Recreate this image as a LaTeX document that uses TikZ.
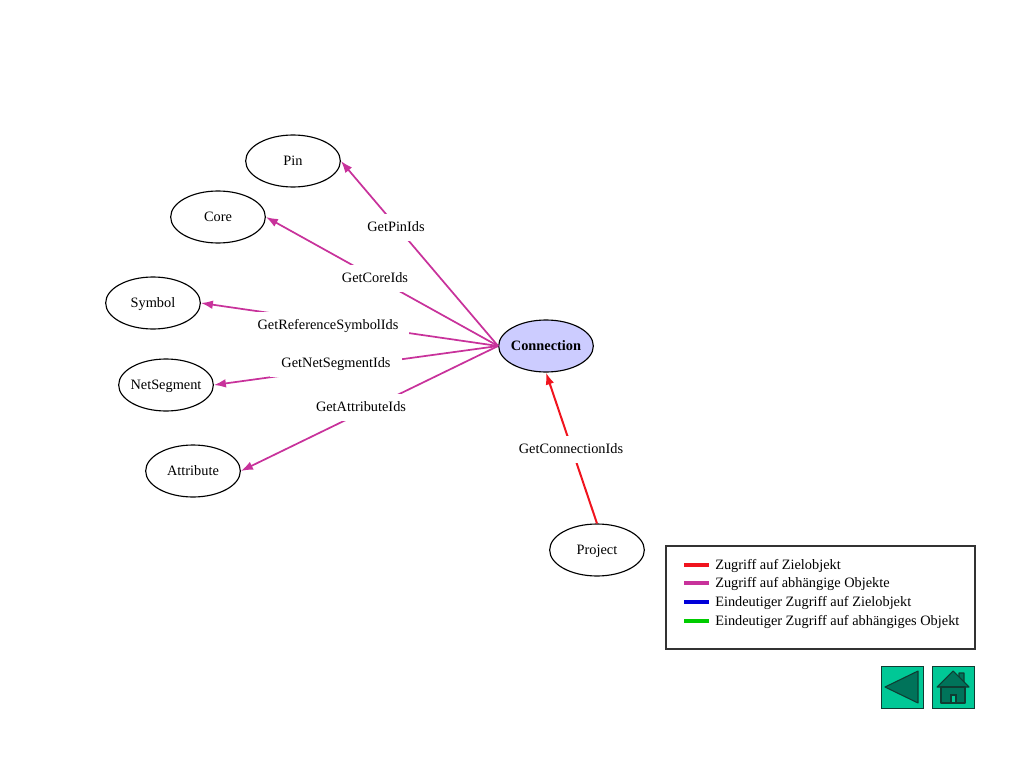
\documentclass[tikz,border=0pt]{standalone}
\usepackage{fontspec}
\setmainfont{Liberation Serif}
\usetikzlibrary{arrows.meta,shapes.geometric}
\definecolor{zielred}{RGB}{240,20,30}
\definecolor{abhmagenta}{RGB}{200,50,155}
\definecolor{connfill}{RGB}{204,204,255}
\definecolor{btnfill}{RGB}{0,200,150}
\definecolor{btndark}{RGB}{0,115,90}
\definecolor{btnline}{RGB}{15,60,50}
\tikzset{
    objnode/.style={draw, ellipse, line width=0.85pt, minimum width=71pt, minimum height=39pt, inner sep=-3pt, text height=7.5pt, text depth=0.5pt, font=\fontsize{10.75}{12}\selectfont},
    lblnode/.style={fill=white, inner xsep=8.25pt, inner ysep=0pt, minimum height=20.25pt, text height=7.5pt, text depth=0.5pt, font=\fontsize{10.75}{12}\selectfont},
    zielline/.style={zielred, line width=1.5pt},
    abhline/.style={abhmagenta, line width=1.3pt},
    tip/.style={-{Latex[length=9pt,width=6.5pt]}},
    legtext/.style={anchor=west, inner sep=0pt, text height=7.5pt, text depth=0.5pt, font=\fontsize{10.75}{12}\selectfont},
    btnnode/.style={draw=btnline, fill=btnfill, line width=0.8pt, minimum size=32pt, inner sep=0pt},
    btnicon/.style={draw=btnline, fill=btndark, line width=0.8pt, line join=round}
}
\begin{document}
\begin{tikzpicture}[x=0.75pt, y=-0.75pt]
    \useasboundingbox (0,0) rectangle (1024,767);

    % objects
    \node [objnode] (pin) at (293,161) {Pin};
    \node [objnode] (core) at (218,217) {Core};
    \node [objnode] (symbol) at (153,303) {Symbol};
    \node [objnode] (netsegment) at (166,385) {NetSegment};
    \node [objnode] (attribute) at (193,471) {Attribute};
    \node [objnode, fill=connfill, font=\fontsize{10.75}{12}\selectfont\bfseries] (connection) at (546,346) {Connection};
    \node [objnode] (project) at (597,550) {Project};

    % access to dependent objects
    \begin{scope}[abhline]
        \draw [tip] (connection.west) -- (pin.east);
        \draw [tip] (connection.west) -- (core.east);
        \draw [tip] (connection.west) -- (symbol.east);
        \draw [tip] (connection.west) -- (netsegment.east);
        \draw [tip] (connection.west) -- (attribute.east);
    \end{scope}

    % access to target object
    \begin{scope}[zielline]
        \draw [tip] (project.north) -- (connection.south);
    \end{scope}

    % labels
    \node [lblnode] (lblpin) at (396,227) {GetPinIds};
    \node [lblnode] (lblcore) at (375,278) {GetCoreIds};
    \node [lblnode] (lblsymbol) at (333,325) {\hspace{-7.5pt}GetReferenceSymbolIds};
    \node [lblnode] (lblnet) at (336,363) {GetNetSegmentIds};
    \node [lblnode] (lblattr) at (361,407) {GetAttributeIds};
    \node [lblnode] (lblconn) at (571,449) {GetConnectionIds};

    % legend
    \node [draw=black!80, line width=0.85pt, minimum width=231.75pt, minimum height=77.25pt, inner sep=0pt] (legend) at (820.5,597.5) {};
    \foreach \name/\y/\col/\txt in {
        a/565/zielred/Zugriff auf Zielobjekt,
        b/583/abhmagenta/Zugriff auf abhängige Objekte,
        c/602/blue!85!black/Eindeutiger Zugriff auf Zielobjekt,
        d/621/green!80!black/Eindeutiger Zugriff auf abhängiges Objekt}
    {
        \coordinate (leg\name) at (684,\y);
        \node [legtext] (legtxt\name) at (715,\y) {\txt};
        \draw [\col, line width=2.4pt] (leg\name) -- ++(25,0);
    }

    % buttons
    \node [btnnode] (backbtn) at (902.5,687.5) {};
    \node [btnnode] (homebtn) at (953.5,687.5) {};
    \draw [btnicon] (885,687) -- (918,671) -- (918,703) -- cycle;
    \draw [btnicon] (959,680) -- (959,673) -- (964,673) -- (964,684) -- cycle;
    \draw [btnicon] (937,687) -- (953,671) -- (969,687) -- cycle;
    \draw [btnicon] (941,687) rectangle (965,703);
    \draw [draw=btnline, fill=btnfill, line width=0.8pt] (951,703) rectangle (956,695);
\end{tikzpicture}
\end{document}
